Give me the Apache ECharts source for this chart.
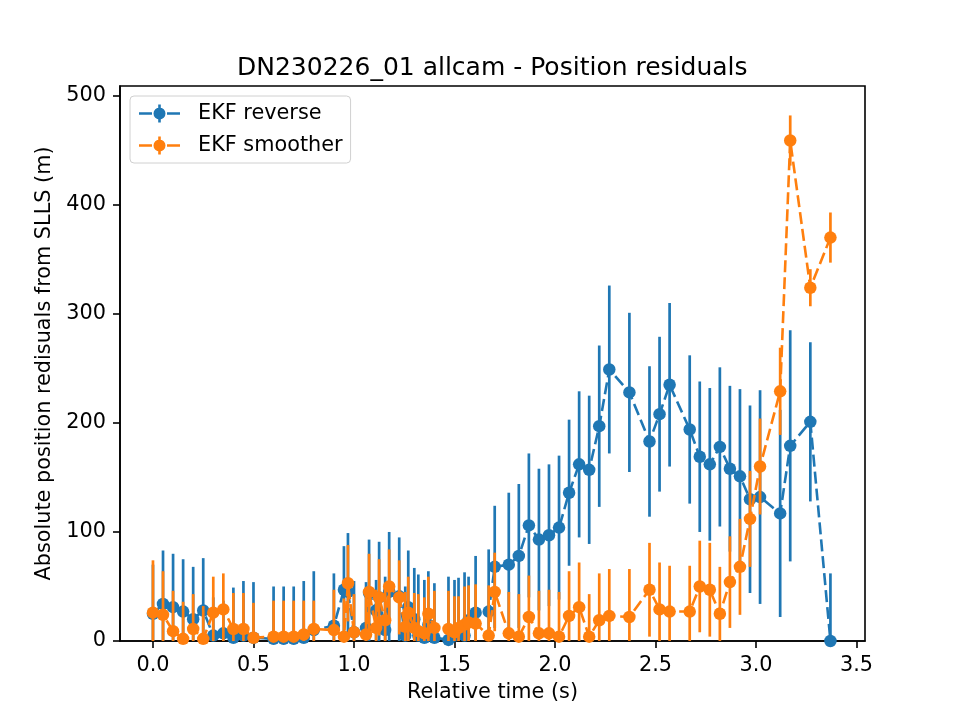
<!DOCTYPE html>
<html>
<head>
<meta charset="utf-8">
<script src="https://cdn.jsdelivr.net/npm/echarts@6/dist/echarts.min.js"></script>
<style>
  html, body { margin: 0; padding: 0; background: #fff; }
  #chart { width: 960px; height: 720px; }
</style>
</head>
<body>
<div id="chart"></div>
<script>
// relative time of each solution (s)
const times = [0.00, 0.05, 0.10, 0.15, 0.20, 0.25, 0.30, 0.35, 0.40, 0.45, 0.50,
  0.60, 0.65, 0.70, 0.75, 0.80, 0.90, 0.95, 0.97, 1.00, 1.06, 1.075, 1.11, 1.125,
  1.155, 1.175, 1.225, 1.255, 1.27, 1.30, 1.32, 1.35, 1.37, 1.40, 1.47, 1.50, 1.52,
  1.55, 1.57, 1.605, 1.67, 1.70, 1.77, 1.82, 1.87, 1.92, 1.97, 2.02, 2.07, 2.12,
  2.17, 2.22, 2.27, 2.37, 2.47, 2.52, 2.57, 2.67, 2.72, 2.77, 2.82, 2.87, 2.92,
  2.97, 3.02, 3.12, 3.17, 3.27, 3.37];

// EKF reverse residuals and 1-sigma
const reverseVals = [25, 34, 31, 27, 20, 28, 5, 7, 3, 5, 3,
  2, 2, 2, 3, 10, 14, 47, 45, 8, 12, 44, 28, 40,
  10, 45, 41, 5, 31, 20, 5, 3, 15, 3, 1, 5, 10,
  5, 19, 26, 27, 68, 70, 78, 106, 93, 97, 104, 136, 162,
  157, 197, 249, 228, 183, 208, 235, 194, 169, 162, 178, 158, 151,
  130, 132, 117, 179, 201, 0];
const reverseErr = [45, 49, 49, 48, 48, 48, 35, 30, 46, 50, 51,
  48, 48, 48, 52, 54, 48, 40, 54, 47, 42, 49, 28, 51,
  49, 55, 54, 45, 52, 47, 56, 53, 49, 50, 58, 51, 48,
  58, 40, 52, 57, 56, 66, 66, 66, 65, 65, 66, 67, 67,
  68, 74, 77, 73, 69, 71, 75, 68, 69, 70, 73, 76, 80,
  86, 98, 95, 106, 73, 62];

// EKF smoother residuals and 1-sigma
const smootherVals = [26, 24, 9, 2, 11, 2, 26, 29, 11, 11, 3,
  4, 4, 4, 6, 11, 10, 4, 53, 8, 6, 45, 12, 40,
  19, 50, 40, 13, 26, 12, 9, 7, 25, 12, 11, 8, 12,
  15, 17, 16, 5, 45, 7, 4, 22, 7, 7, 4, 23, 31,
  4, 19, 23, 22, 47, 29, 27, 27, 50, 47, 25, 54, 68,
  112, 160, 229, 459, 324, 370];
const smootherErr = [48, 40, 37, 34, 32, 30, 33, 33, 33, 33, 32,
  33, 33, 33, 31, 26, 37, 35, 35, 35, 38, 35, 35, 35,
  30, 34, 34, 32, 33, 32, 34, 33, 34, 34, 35, 33, 29,
  35, 34, 36, 46, 36, 38, 39, 38, 39, 40, 41, 41, 41,
  39, 43, 43, 44, 43, 43, 42, 42, 42, 43, 43, 42, 44,
  44, 44, 40, 23, 17, 23];

const xTicks = [0, 0.5, 1.0, 1.5, 2.0, 2.5, 3.0, 3.5];

const FONT = 'DejaVu Sans';
const BLUE = '#1f77b4';
const ORANGE = '#ff7f0e';

// legend handle: dashed line, vertical error bar and round marker
const handleIcon = 'path://M0,7.7H13V10.3H0Z M28,7.7H41V10.3H28Z M19.2,0H21.8V18H19.2Z ' +
  'M14.5,9A6,6 0 1 1 26.5,9A6,6 0 1 1 14.5,9Z';

function errorBar(params, api) {
  const x = api.value(0);
  const v = api.value(1);
  const e = api.value(2);
  const lo = api.coord([x, v - e]);
  const hi = api.coord([x, v + e]);
  return {
    type: 'line',
    shape: { x1: lo[0], y1: lo[1], x2: hi[0], y2: hi[1] },
    style: { stroke: api.visual('color'), lineWidth: 2.7 }
  };
}

function barData(vals, errs) {
  return times.map((t, i) => [t, vals[i], errs[i]]);
}
function lineData(vals) {
  return times.map((t, i) => [t, vals[i]]);
}

const chart = echarts.init(document.getElementById('chart'));
chart.setOption({
  animation: false,
  backgroundColor: '#fff',
  textStyle: { fontFamily: FONT, color: '#000' },
  title: {
    text: 'DN230226_01 allcam - Position residuals',
    left: 232,
    top: 51,
    textStyle: { fontFamily: FONT, fontSize: 25, fontWeight: 'normal', color: '#000' }
  },
  grid: {
    left: 120, right: 95, top: 86, bottom: 79,
    show: true, borderColor: '#000', borderWidth: 1.6, backgroundColor: 'transparent'
  },
  legend: {
    orient: 'vertical',
    left: 130,
    top: 96,
    padding: [7, 8, 7, 9],
    itemGap: 11,
    itemWidth: 41,
    itemHeight: 18,
    backgroundColor: 'rgba(255,255,255,0.8)',
    borderColor: '#d0d0d0',
    borderWidth: 1,
    borderRadius: 4,
    textStyle: { fontFamily: FONT, fontSize: 20.8, color: '#000', lineHeight: 20, padding: [0, 0, 0, 13] },
    data: [
      { name: 'EKF reverse', icon: handleIcon },
      { name: 'EKF smoother', icon: handleIcon }
    ]
  },
  xAxis: {
    type: 'value',
    min: -0.164,
    max: 3.542,
    name: 'Relative time (s)',
    nameLocation: 'middle',
    nameGap: 41,
    nameTextStyle: { fontFamily: FONT, fontSize: 20.8, color: '#000' },
    splitLine: { show: false },
    axisLine: { show: true, onZero: false, lineStyle: { color: '#000', width: 1.6 } },
    axisTick: { show: true, length: 7, customValues: xTicks, lineStyle: { color: '#000', width: 1.6 } },
    axisLabel: {
      customValues: xTicks,
      margin: 14,
      fontFamily: FONT, fontSize: 20.8, color: '#000',
      formatter: v => v.toFixed(1)
    }
  },
  yAxis: {
    type: 'value',
    min: 0,
    max: 509,
    interval: 100,
    name: 'Absolute position redisuals from SLLS (m)',
    nameLocation: 'middle',
    nameGap: 64,
    nameTextStyle: { fontFamily: FONT, fontSize: 20.8, color: '#000' },
    splitLine: { show: false },
    axisLine: { show: true, onZero: false, lineStyle: { color: '#000', width: 1.6 } },
    axisTick: { show: true, length: 7, lineStyle: { color: '#000', width: 1.6 } },
    axisLabel: {
      margin: 14, fontFamily: FONT, fontSize: 20.8, color: '#000',
      showMaxLabel: false, padding: [4, 0, 0, 0]
    }
  },
  series: [
    {
      name: 'EKF reverse',
      type: 'custom',
      renderItem: errorBar,
      clip: true,
      itemStyle: { color: BLUE },
      encode: { x: 0, y: 1 },
      data: barData(reverseVals, reverseErr),
      z: 2
    },
    {
      name: 'EKF reverse',
      type: 'line',
      data: lineData(reverseVals),
      color: BLUE,
      symbol: 'circle',
      symbolSize: 12.5,
      showSymbol: true,
      clip: true,
      lineStyle: { color: BLUE, width: 2.6, type: [12, 5] },
      itemStyle: { color: BLUE },
      z: 3
    },
    {
      name: 'EKF smoother',
      type: 'custom',
      renderItem: errorBar,
      clip: true,
      itemStyle: { color: ORANGE },
      encode: { x: 0, y: 1 },
      data: barData(smootherVals, smootherErr),
      z: 4
    },
    {
      name: 'EKF smoother',
      type: 'line',
      data: lineData(smootherVals),
      color: ORANGE,
      symbol: 'circle',
      symbolSize: 12.5,
      showSymbol: true,
      clip: true,
      lineStyle: { color: ORANGE, width: 2.6, type: [12, 5] },
      itemStyle: { color: ORANGE },
      z: 5
    }
  ]
});
</script>
</body>
</html>
